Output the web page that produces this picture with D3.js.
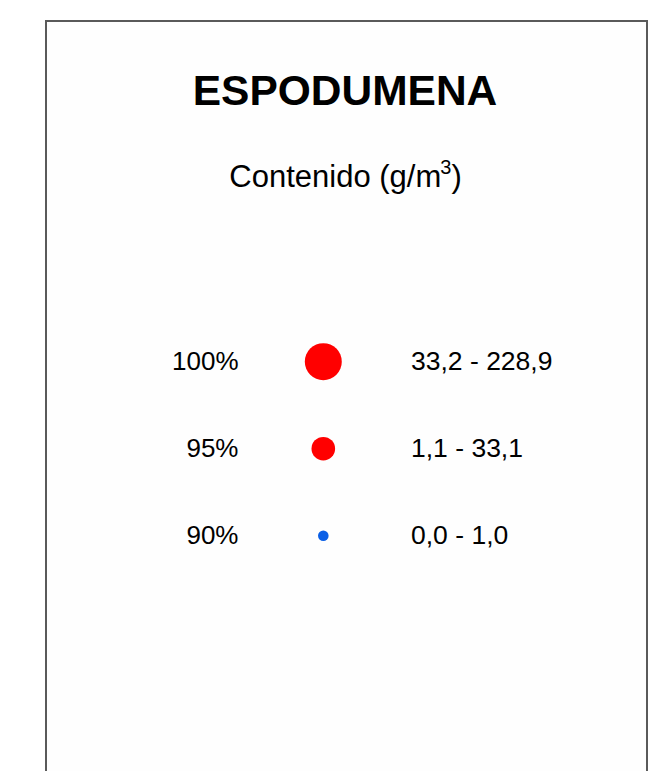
<!DOCTYPE html>
<html>
<head>
<meta charset="utf-8">
<script src="https://cdn.jsdelivr.net/npm/d3@7"></script>
<style>
  html, body { margin: 0; padding: 0; background: #ffffff; }
  svg { display: block; }
  text { font-family: "Liberation Sans", Arial, Helvetica, sans-serif; fill: #000; }
</style>
</head>
<body>
<script>
// ---- data ----
const title = "ESPODUMENA";
const subtitle = "Contenido (g/m";
const subtitleSup = "3";
const percentLabels = ["100%", "95%", "90%"];
const rangeLabels = ["33,2 - 228,9", "1,1 - 33,1", "0,0 - 1,0"];
const classUpper = [228.9, 33.1, 1.0];
const classColors = ["#ff0000", "#ff0000", "#0a5fe6"];

// ---- drawing ----
const W = 663, H = 771;
const svg = d3.select("body").append("svg").attr("width", W).attr("height", H);

svg.append("rect")
  .attr("x", 46).attr("y", 21)
  .attr("width", 601).attr("height", H + 20)
  .attr("fill", "#fefefe")
  .attr("stroke", "#5a5a5a")
  .attr("stroke-width", 2);

const cx = 345;
svg.append("text")
  .attr("x", cx).attr("y", 105)
  .attr("text-anchor", "middle")
  .attr("font-size", 42.5)
  .attr("font-weight", "bold")
  .text(title);

const st = svg.append("text")
  .attr("x", cx + 0.5).attr("y", 187)
  .attr("text-anchor", "middle")
  .attr("font-size", 31);
st.append("tspan").text(subtitle);
st.append("tspan").attr("font-size", 20).attr("dy", -13).attr("dx", -1).text(subtitleSup);
st.append("tspan").attr("dy", 13).text(")");

const y = d3.scalePoint()
  .domain(percentLabels)
  .range([361.7, 535.7]);

const r = d3.scaleOrdinal()
  .domain(percentLabels)
  .range([18.5, 11.8, 5.3]);

const rows = svg.append("g").selectAll("g")
  .data(percentLabels.map((p, i) => ({ p, range: rangeLabels[i], upper: classUpper[i], color: classColors[i] })))
  .join("g")
  .attr("transform", d => `translate(0,${y(d.p)})`);

rows.append("text")
  .attr("x", 238.5).attr("y", 8)
  .attr("text-anchor", "end")
  .attr("font-size", 26)
  .text(d => d.p);

rows.append("circle")
  .attr("cx", 323.3).attr("cy", 0)
  .attr("r", d => r(d.p))
  .attr("fill", d => d.color);

rows.append("text")
  .attr("x", 411).attr("y", 8)
  .attr("font-size", 26.5)
  .text(d => d.range);
</script>
</body>
</html>
